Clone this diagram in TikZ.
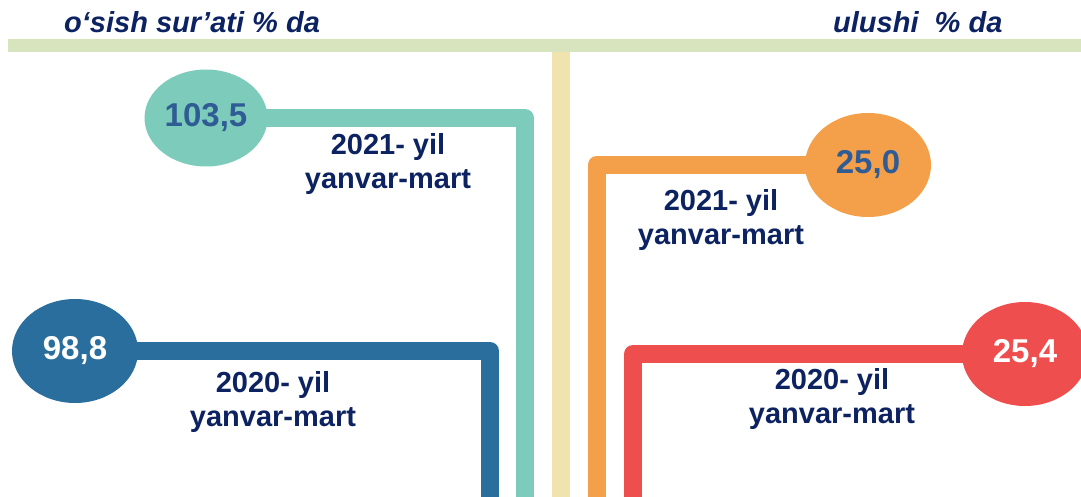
\documentclass[tikz,border=0pt]{standalone}
\usepackage{fontspec}
\setmainfont{Liberation Sans}
\usetikzlibrary{shapes.geometric,backgrounds,positioning}
\definecolor{navy}{HTML}{0D2361}
\definecolor{numblue}{HTML}{2F5C94}
\definecolor{barc}{HTML}{D7E4BD}
\definecolor{beige}{HTML}{F1E3AE}
\definecolor{tealc}{HTML}{7DCBBA}
\definecolor{bluec}{HTML}{2A6E9E}
\definecolor{orangec}{HTML}{F4A04B}
\definecolor{redc}{HTML}{EF4E4E}

\begin{document}
\begin{tikzpicture}[x=1pt,y=-1pt]
  \tikzstyle{bubble}=[ellipse,inner sep=0pt,minimum width=126pt,minimum height=104pt,font=\fontsize{33}{36}\selectfont\bfseries]
  \tikzstyle{period}=[anchor=north,align=center,inner sep=0pt,text=navy,font=\fontsize{29}{34}\selectfont\bfseries]
  \tikzstyle{head}=[anchor=base west,inner sep=0pt,text=navy,font=\fontsize{29}{34}\selectfont\bfseries\itshape]
  \tikzstyle{track}=[line width=18pt,line join=round]

  \useasboundingbox (0,0) rectangle (1081,497);
  \clip (0,0) rectangle (1081,497);
  \fill[barc] (8,39) rectangle (1081,52);
  \fill[beige] (552,52) rectangle (570,497);

  \node[head] (lhead) at (64,33) {o‘sish sur’ati \% da};
  \node[head] (rhead) at (833,33) {ulushi\ \ \% da};

  \node[bubble,fill=tealc,text=numblue,minimum width=123pt,minimum height=97pt] (g21) at (206,118) {103,5};
  \node[bubble,fill=bluec,text=white] (g20) at (75,351) {98,8};
  \node[bubble,fill=orangec,text=numblue] (s21) at (868,165) {25,0};
  \node[bubble,fill=redc,text=white] (s20) at (1025,354) {25,4};

  \coordinate (g21end) at (525,497);
  \coordinate (g20end) at (490,497);
  \coordinate (s21end) at (596.5,497);
  \coordinate (s20end) at (633,497);

  \node[period] (g21lab) at (388,133) {2021- yil\\yanvar-mart};
  \node[period] (g20lab) at (273,371) {2020- yil\\yanvar-mart};
  \node[period] (s21lab) at (721,189) {2021- yil\\yanvar-mart};
  \node[period] (s20lab) at (832,368) {2020- yil\\yanvar-mart};

  \begin{scope}[on background layer]
    \draw[track,tealc] (g21.center) -| (g21end);
    \draw[track,bluec] (g20.center) -| (g20end);
    \draw[track,orangec] (s21.center) -| (s21end);
    \draw[track,redc] (s20.center) -| (s20end);
  \end{scope}
\end{tikzpicture}
\end{document}
